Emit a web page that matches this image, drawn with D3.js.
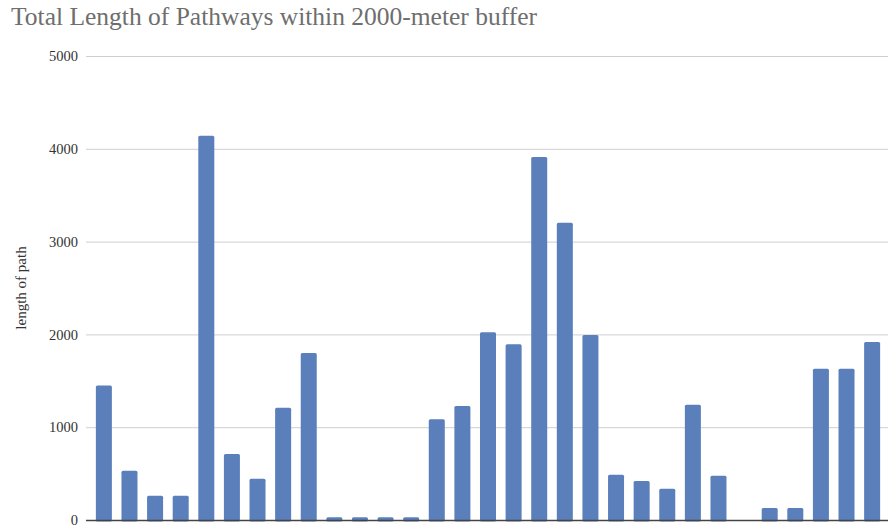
<!DOCTYPE html>
<html>
<head>
<meta charset="utf-8">
<script src="https://cdn.jsdelivr.net/npm/d3@7/dist/d3.min.js"></script>
<style>
  html, body { margin: 0; padding: 0; background: #fff; }
  svg { display: block; }
</style>
</head>
<body>
<svg id="chart" width="888" height="529"></svg>
<script>
const title = "Total Length of Pathways within 2000-meter buffer";
const yAxisLabel = "length of path";
const categories = d3.range(1, 32).map(i => "S" + i);
const values = [1450, 530, 260, 260, 4140, 710, 445, 1210, 1800, 30, 30, 30, 30,
                1085, 1228, 2022, 1893, 3911, 3204, 1993, 488, 420, 337, 1243, 478,
                0, 129, 129, 1631, 1631, 1918];
const yTicks = [0, 1000, 2000, 3000, 4000, 5000];

(function () {
const svg = d3.select("#chart");
const mLeft = 86, mRight = 888, mTop = 56, mBottom = 520;

const x = d3.scaleBand().domain(categories).range([91, 885]).paddingInner(0.375).paddingOuter(0.19);
const y = d3.scaleLinear().domain([0, 5000]).range([mBottom, mTop]);

svg.append("text")
  .attr("x", 11).attr("y", 25)
  .attr("font-family", "'Liberation Serif', 'Times New Roman', serif")
  .attr("font-size", 25.5)
  .attr("fill", "#6e6e6e")
  .text(title);

const yAxis = d3.axisLeft(y).tickValues(yTicks).tickSize(0).tickPadding(8).tickFormat(d3.format("d"));
const g = svg.append("g").attr("transform", `translate(${mLeft},0)`).call(yAxis);
g.select(".domain").remove();
g.selectAll(".tick text")
  .attr("font-family", "'Liberation Serif', 'Times New Roman', serif")
  .attr("font-size", 14.5)
  .attr("fill", "#333");
g.selectAll(".tick").filter(d => d !== 0).append("line")
  .attr("x1", 0).attr("x2", mRight - mLeft)
  .attr("stroke", "#cfcfcf").attr("stroke-width", 1);

svg.append("text")
  .attr("transform", `translate(26, 288) rotate(-90)`)
  .attr("text-anchor", "middle")
  .attr("font-family", "'Liberation Serif', 'Times New Roman', serif")
  .attr("font-size", 15)
  .attr("fill", "#333")
  .text(yAxisLabel);

svg.append("g").selectAll("rect")
  .data(values)
  .join("rect")
  .attr("x", (d, i) => x(categories[i]))
  .attr("width", x.bandwidth())
  .attr("y", d => y(d))
  .attr("height", d => d > 0 ? mBottom - y(d) + 1.5 : 0)
  .attr("rx", 1.5)
  .attr("fill", "#5a7fbb");

svg.append("line")
  .attr("x1", mLeft).attr("x2", mRight)
  .attr("y1", mBottom + 0.5).attr("y2", mBottom + 0.5)
  .attr("stroke", "#444").attr("stroke-width", 1.6);
})();
</script>
</body>
</html>
